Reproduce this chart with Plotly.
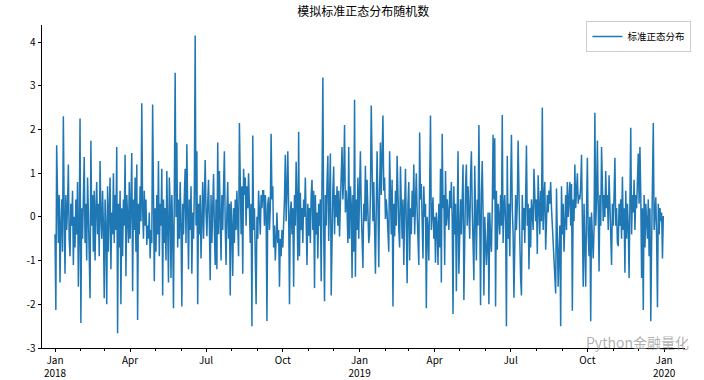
import pandas as pd
import plotly.graph_objects as go

start_date = "2018-01-01"
values = [
    -0.4, -2.13, 1.64, 0.3, -0.6, 0.5, -1.5, -0.2, 0.4, -0.8,
    2.3, 0.1, -1.3, 0.5, -0.3, 0.2, 1.2, -0.5, -0.9, 0.3,
    -0.2, 0.6, -1.1, 0.0, -0.7, 0.4, -0.4, 0.8, -1.6, -0.3,
    2.25, -2.43, 0.2, -0.5, 0.7, 1.37, -0.6, 0.3, -1.0, 0.9,
    0.1, -0.6, -1.86, 1.74, -0.2, 0.5, -0.8, 0.6, -1.0, 0.2,
    0.8, -0.4, 0.3, -0.9, 1.28, 0.0, -0.5, 0.6, -0.2, -1.86,
    0.4, -0.3, -2.0, 0.7, -0.8, 0.2, 0.9, -1.2, 0.1, -0.4,
    1.0, -0.6, 0.5, -0.3, 1.6, -2.66, 0.3, -0.7, 0.6, -2.0,
    0.2, -0.9, 0.4, -0.2, 1.42, -1.36, 0.5, 0.0, -0.6, 0.8,
    -0.5, 0.3, 1.46, -1.7, 0.4, -0.3, 0.9, -0.8, 1.2, -2.36,
    0.3, -0.4, 0.7, -0.1, 2.6, 0.2, -0.5, 0.6, -0.2, 0.4,
    -0.64, -0.2, -0.5, 0.1, -0.95, -0.3, -0.6, 2.57, 0.3, -1.47,
    0.2, -0.8, 0.5, -0.4, 1.28, -0.9, 0.3, -0.2, 1.1, -1.8,
    0.4, -0.6, 0.2, -1.0, 1.05, 0.0, -1.5, 0.9, 0.3, -1.4,
    0.5, -0.3, -2.09, 0.6, 3.3, 0.0, 1.7, -0.7, 0.4, -0.5,
    0.8, -0.2, -2.05, 0.3, -0.4, 0.5, 1.1, -0.6, 1.66, 0.2,
    -1.2, 0.4, -0.3, 0.7, -1.3, 0.1, -0.5, 0.6, 4.15, -0.2,
    1.5, -2.0, 0.3, -0.4, 0.5, -0.95, 0.2, 0.8, -0.5, 0.4,
    1.3, 0.1, -0.44, 0.3, 0.85, -0.2, -1.45, 0.5, -0.6, 0.2,
    0.98, -0.3, -1.1, 0.4, -1.2, 1.7, -0.4, 1.05, 0.2, -1.0,
    0.5, -0.3, 0.7, 1.5, -0.2, -1.1, 0.1, 0.8, -0.5, 0.3,
    -1.8, 0.35, -0.2, -1.35, 0.2, -0.6, 0.4, -0.3, 0.6, 0.0,
    -0.9, 2.15, 0.3, -0.4, 0.7, -1.3, 1.1, 0.5, 0.9, -0.2,
    0.7, 0.2, 1.0, 0.4, -0.6, 0.3, -2.5, 1.86, -0.3, 0.2,
    -0.8, -2.0, 0.0, -0.5, 0.6, 0.1, -0.4, 0.5, 0.2, 0.6,
    0.6, -0.2, 0.5, 0.1, -2.38, 0.3, 0.45, -0.3, 0.2, 1.9,
    0.4, 0.7, -0.7, -0.2, -1.0, -0.5, 0.1, -0.6, -0.3, -1.6,
    -0.5, -0.9, -0.3, -0.7, -0.2, 0.4, 1.42, -0.1, 0.6, 1.5,
    0.2, -2.0, 0.1, 0.35, -0.4, 0.2, -1.6, 0.5, -0.2, 1.26,
    0.3, -1.0, 1.95, -0.9, 0.55, -0.3, 0.2, -0.6, 0.4, 0.0,
    0.9, 0.1, -1.1, 0.3, -0.43, 0.2, -0.6, 0.5, 0.85, -0.3,
    0.6, -1.63, 0.5, -0.4, 0.1, -0.95, 0.3, -0.2, 0.4, -1.47,
    0.2, 3.19, -0.3, -1.93, 0.5, -0.2, 0.8, 1.4, -0.55, 0.3,
    1.45, -1.8, 0.2, 0.6, 1.15, -0.4, 0.5, 0.0, 0.7, -0.2,
    0.6, -0.45, 0.3, 0.8, 1.6, 0.4, 0.9, 2.1, 0.1, 0.6,
    0.2, -0.6, 1.6, -0.5, 0.7, 0.3, -1.4, 0.5, -0.8, 2.68,
    -1.37, 0.4, -0.3, 0.9, -0.5, 0.6, 1.5, 0.2, -0.4, -1.17,
    0.3, -0.1, 1.17, -0.1, 0.85, 0.0, -0.6, -0.4, 0.5, 2.55,
    0.4, -0.1, 0.8, -0.5, -1.3, 0.2, 1.5, 0.3, -1.15, 0.6,
    1.7, 0.5, 1.2, 2.32, 0.6, 0.9, -0.05, 0.4, 0.1, -0.3,
    -0.8, 1.5, 0.2, -0.4, 0.85, -2.05, 0.3, -0.45, 0.6, -0.2,
    1.4, 0.1, -0.3, -0.7, 1.15, 0.3, -0.5, 0.4, -1.1, 0.2,
    1.1, -0.2, -1.52, 0.3, 0.8, -1.0, 0.2, -0.4, 0.6, 0.0,
    1.2, -0.4, 0.3, 1.0, 0.1, -0.6, -1.1, 1.93, 0.4, 0.75,
    -0.2, -0.95, 0.7, 0.0, 0.3, -2.09, 0.0, -0.3, -1.0, 0.4,
    2.32, -0.3, 0.3, 0.45, -0.5, 0.0, -1.05, 0.1, -0.2, -1.1,
    0.3, -0.7, 1.1, -1.5, 1.9, 0.2, 0.5, -1.1, 1.05, -0.2,
    0.4, 0.1, -0.3, 0.6, 0.2, 0.8, 0.0, -2.22, 0.7, -0.4,
    0.3, -1.7, 0.2, 1.5, -1.3, 0.0, 0.4, -0.4, 0.5, 1.2,
    -1.9, 0.3, 0.7, 1.2, -0.2, 0.7, 0.15, -0.5, 0.9, 1.5,
    0.2, -0.6, -1.45, 1.17, -0.3, -1.0, 0.4, -0.2, 2.1, 0.3,
    -2.02, 0.5, 1.28, 0.1, -1.8, 0.0, -0.4, -1.1, -0.6, 0.1,
    -2.0, 0.1, -0.5, -0.8, 0.2, 1.88, 0.4, 1.8, -2.05, 0.6,
    -0.75, 0.3, 0.0, -0.4, 0.5, -0.2, 2.33, -0.6, 0.2, 0.5,
    -0.1, -2.5, 1.4, -0.5, 0.3, -0.9, 0.6, 1.88, 0.2, -0.4,
    -1.85, 0.1, 0.5, -0.3, 0.3, 1.75, 0.2, -0.5, -1.4, -1.8,
    0.5, -0.3, 0.2, -0.6, 0.4, 1.63, -0.2, 0.3, -1.2, 0.2,
    -0.7, 0.4, 0.1, -0.3, 1.1, 0.2, -0.1, 0.4, -0.85, 0.95,
    0.0, -0.4, 0.6, -0.1, 2.5, -0.3, 0.4, 0.8, -0.75, 0.2,
    0.5, 0.1, 0.6, 0.3, 0.8, 0.2, -0.2, -0.6, -0.9, -1.2,
    -1.75, 0.65, -0.3, -1.6, -0.8, -0.2, -2.5, 0.7, -0.4, 0.3,
    -0.8, 0.2, 0.5, -0.3, 0.8, 0.0, 0.4, 0.8, -0.2, 0.75,
    -2.15, 0.4, -0.1, 1.2, 0.2, 0.6, 1.0, 0.3, 0.5, 0.4,
    0.7, 1.42, 0.1, -1.6, 0.3, -0.5, -1.6, 0.2, 1.35, -0.4,
    -0.9, 0.0, -2.39, 0.1, -0.7, -0.95, -0.3, 2.38, -0.2, 0.4,
    1.75, -0.3, -1.25, 0.5, -0.2, 1.6, 0.3, -0.1, 0.5, 0.0,
    1.05, 0.2, 0.5, -0.3, 0.95, 0.1, -0.4, -1.1, 0.3, -0.2,
    0.5, 1.35, -0.2, 0.2, -0.6, -0.67, 0.3, -0.2, 0.4, -0.5,
    0.92, -0.3, 0.2, -1.28, 0.6, -0.5, 0.3, -0.2, -1.4, 0.4,
    2.04, -0.4, 0.5, 0.1, 0.85, -0.3, 0.5, 0.2, 0.9, 1.45,
    0.3, 1.6, 0.5, -1.4, 0.2, -2.13, 0.5, -0.7, 0.3, 0.0,
    -0.5, 0.4, -0.9, 0.2, -2.39, -0.6, 0.5, 2.15, -0.3, 0.1,
    0.45, -0.5, -2.07, 0.3, -0.4, 0.2, -0.1, 0.1, -0.95, 0.02,
]
dates = pd.date_range(start_date, periods=len(values), freq="D")

series_name = "标准正态分布"
title_text = "模拟标准正态分布随机数"
x_tick_dates = ["2018-01-01", "2018-04-01", "2018-07-01", "2018-10-01",
                "2019-01-01", "2019-04-01", "2019-07-01", "2019-10-01",
                "2020-01-01"]
x_tick_labels = ["Jan<br>2018", "Apr", "Jul", "Oct", "Jan<br>2019",
                 "Apr", "Jul", "Oct", "Jan<br>2020"]
y_tick_vals = [-3, -2, -1, 0, 1, 2, 3, 4]
y_tick_labels = ["-3", "-2", "-1", "0", "1", "2", "3", "4"]

FONT = "Noto Sans CJK SC, DejaVu Sans, sans-serif"

fig = go.Figure()
fig.add_trace(go.Scatter(
    x=dates, y=values, mode="lines", name=series_name,
    line=dict(color="#1f77b4", width=1.5),
    showlegend=True,
))

fig.update_layout(
    width=704, height=380,
    margin=dict(l=42, r=19, t=25, b=32, autoexpand=False),
    paper_bgcolor="white", plot_bgcolor="white",
    font=dict(family=FONT, size=10, color="black"),
    title=dict(text=title_text, x=0.516, xanchor="center", y=0.968,
               yanchor="middle", font=dict(size=12, color="black", family=FONT)),
    showlegend=True,
    legend=dict(x=1.01, y=1.012, xanchor="right", yanchor="top",
                bgcolor="white", bordercolor="#cccccc", borderwidth=1,
                font=dict(size=9.5, family=FONT), itemwidth=30,
                tracegroupgap=0),
)

fig.update_xaxes(
    type="date", automargin=False,
    range=["2017-12-16 10:00", "2020-01-26"],
    showgrid=False, zeroline=False,
    showline=True, linecolor="black", linewidth=0.8,
    ticks="outside", ticklen=3.5, tickwidth=0.8, tickcolor="black",
    tickvals=x_tick_dates, ticktext=x_tick_labels,
    tickfont=dict(size=10, family=FONT),
    minor=dict(ticks="outside", ticklen=2, tickwidth=0.6, tickcolor="black",
               dtick="M1", tick0="2018-01-01", showgrid=False),
)
fig.update_yaxes(
    automargin=False,
    range=[-3, 4.39],
    showgrid=False, zeroline=False,
    showline=True, linecolor="black", linewidth=0.8,
    ticks="outside", ticklen=3.5, tickwidth=0.8, tickcolor="black",
    tickvals=y_tick_vals, ticktext=y_tick_labels,
    tickfont=dict(size=10, family=FONT),
)

fig.add_annotation(
    text="Python金融量化", xref="paper", yref="paper",
    x=1.01, y=0.018, xanchor="right", yanchor="middle", showarrow=False,
    font=dict(size=14, color="rgba(150,150,150,0.75)", family=FONT),
)

fig.write_html("out.html", config={"displayModeBar": False},
               post_script="document.body.style.margin='0';")
